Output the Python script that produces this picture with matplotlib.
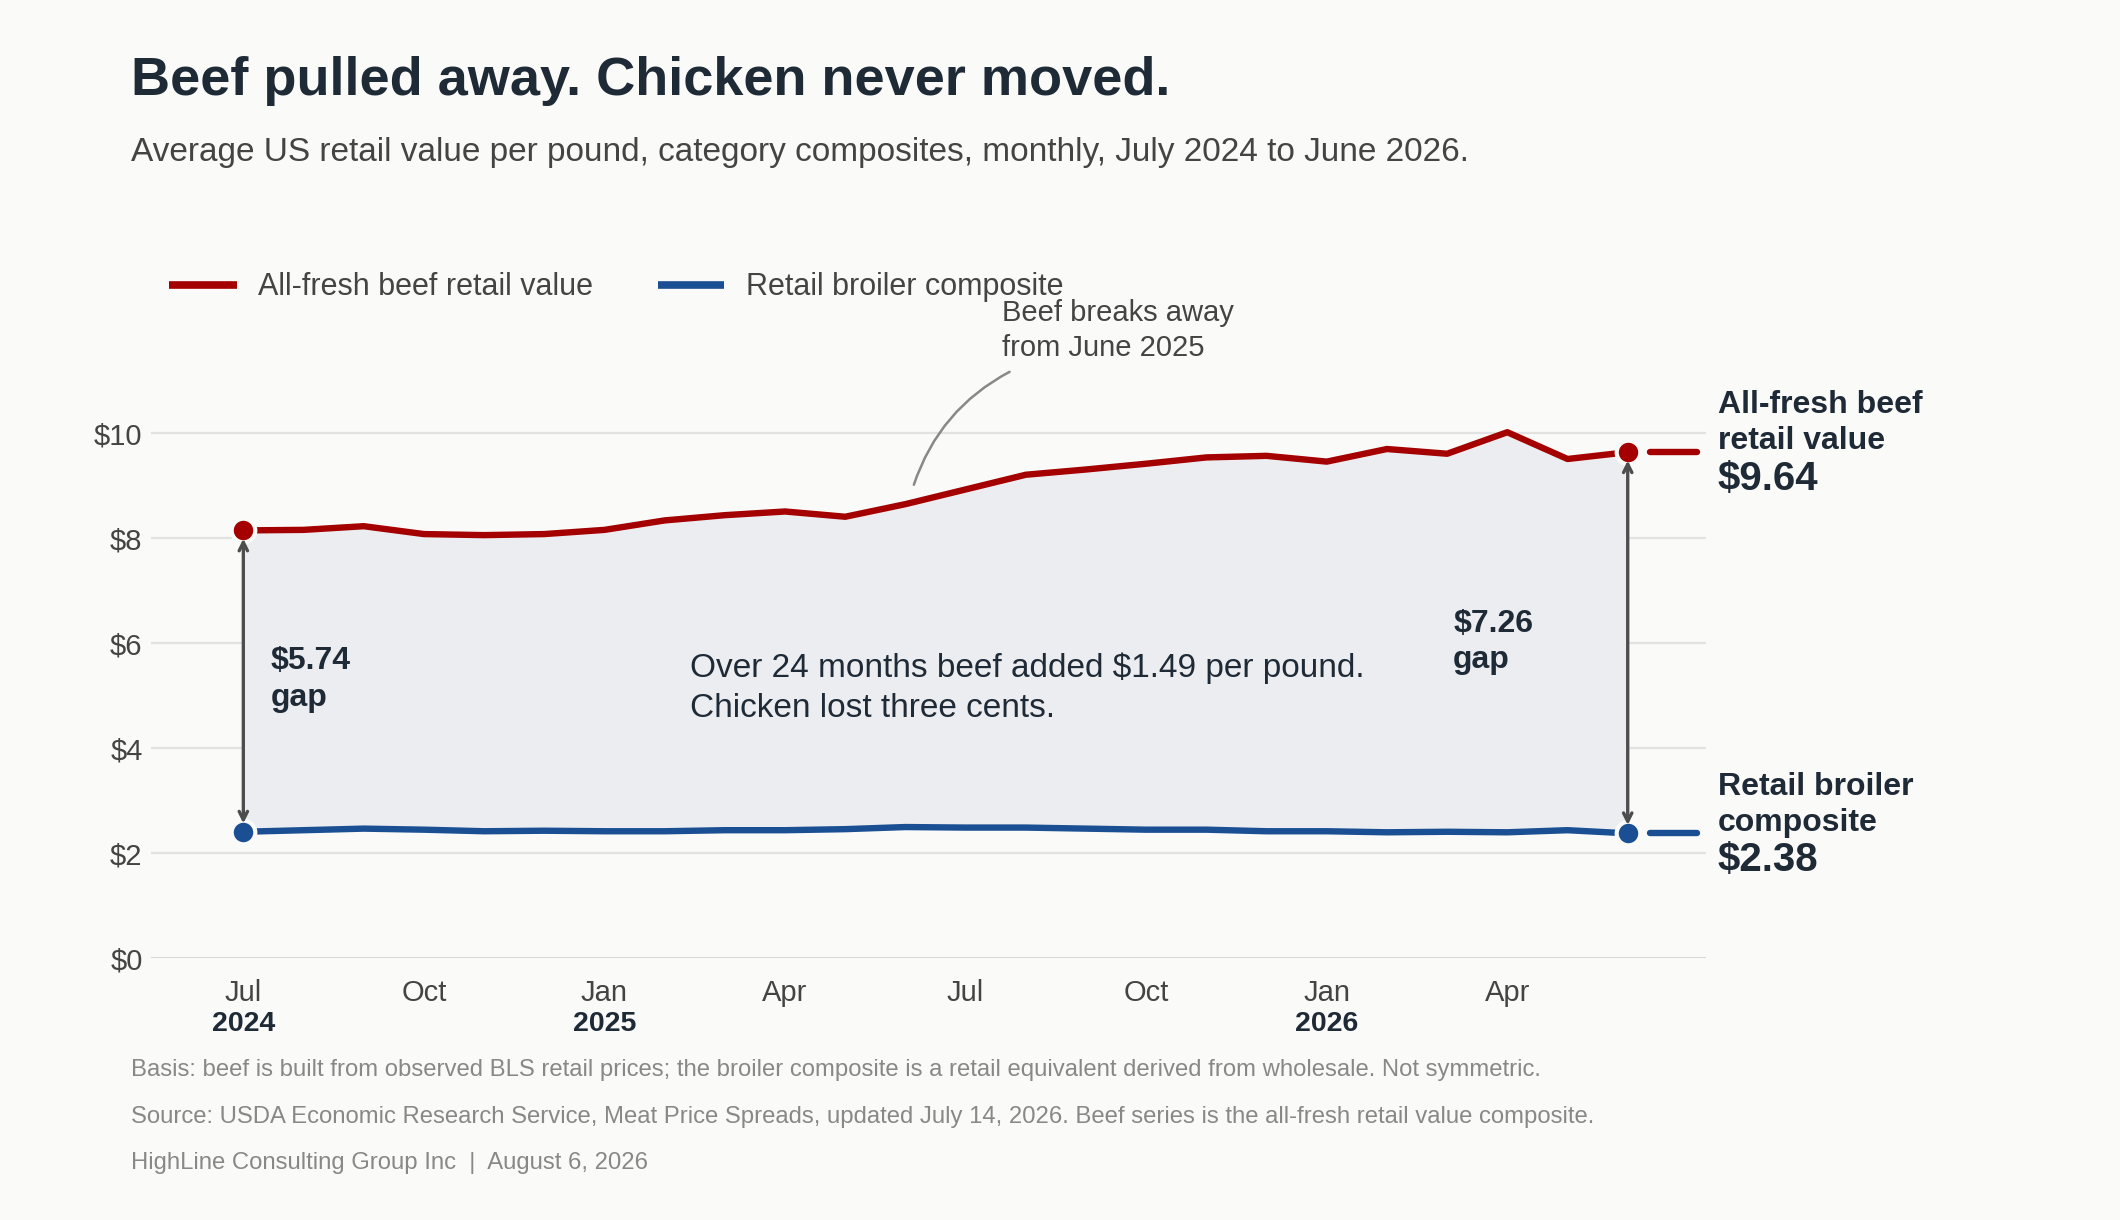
import numpy as np
import matplotlib.pyplot as plt

plt.rcParams['font.family'] = ['Liberation Sans', 'DejaVu Sans']

# monthly values, Jul 2024 .. Jun 2026
months = ['Jul', 'Aug', 'Sep', 'Oct', 'Nov', 'Dec', 'Jan', 'Feb', 'Mar', 'Apr', 'May', 'Jun',
          'Jul', 'Aug', 'Sep', 'Oct', 'Nov', 'Dec', 'Jan', 'Feb', 'Mar', 'Apr', 'May', 'Jun']
beef = [8.15, 8.16, 8.23, 8.08, 8.06, 8.08, 8.16, 8.34, 8.44, 8.51, 8.41, 8.65,
        8.93, 9.21, 9.31, 9.42, 9.54, 9.57, 9.46, 9.70, 9.61, 10.02, 9.51, 9.64]
broiler = [2.41, 2.44, 2.47, 2.45, 2.42, 2.43, 2.42, 2.42, 2.44, 2.44, 2.46, 2.50,
           2.49, 2.49, 2.47, 2.45, 2.45, 2.42, 2.42, 2.40, 2.41, 2.40, 2.44, 2.38]
tick_idx = [0, 3, 6, 9, 12, 15, 18, 21]
year_idx = {0: '2024', 6: '2025', 18: '2026'}
yticks = [0, 2, 4, 6, 8, 10]

RED = '#a50000'
BLUE = '#1a4f94'
DARK = '#1f2a37'
GREY = '#444444'
BG = '#fafaf8'

x = np.arange(len(beef))
beef = np.array(beef)
broiler = np.array(broiler)
n = len(beef)

fig = plt.figure(figsize=(21.2, 12.2), dpi=100, facecolor=BG)
ax = fig.add_axes([0.0712, 0.2145, 0.7335, 0.4734], facecolor=BG)
ax.set_xlim(-1.535, 24.3)
ax.set_ylim(0, 11)

for s in ax.spines.values():
    s.set_visible(False)
for v in yticks[1:]:
    ax.axhline(v, color='#e2e2e2', lw=1.6, zorder=0)
ax.axhline(0, color='#cccccc', lw=1.8, zorder=0)

ax.fill_between(x, broiler, beef, color='#ecedf0', lw=0, zorder=1)
ax.plot(x, beef, color=RED, lw=4.6, zorder=3)
ax.plot(x, broiler, color=BLUE, lw=4.6, zorder=3)

# short dashes past the last point
ax.plot([n - 1 + 0.37, n - 1 + 1.15], [beef[-1]] * 2, color=RED, lw=4.6, solid_capstyle='round', zorder=3)
ax.plot([n - 1 + 0.37, n - 1 + 1.15], [broiler[-1]] * 2, color=BLUE, lw=4.6, solid_capstyle='round', zorder=3)

for i in [0, n - 1]:
    ax.plot(i, beef[i], 'o', ms=17, color=RED, mec=BG, mew=3, zorder=5)
    ax.plot(i, broiler[i], 'o', ms=17, color=BLUE, mec=BG, mew=3, zorder=5)
    ax.annotate('', xy=(i, beef[i]), xytext=(i, broiler[i]),
                arrowprops=dict(arrowstyle='<->,head_length=0.6,head_width=0.3', color='#4d4d4d',
                                lw=2.4, shrinkA=6, shrinkB=6), zorder=6)

ax.set_yticks(yticks)
ax.set_yticklabels(['$%d' % v for v in yticks])
ax.set_xticks(tick_idx)
ax.set_xticklabels([months[i] for i in tick_idx])
ax.tick_params(length=0, labelsize=21, labelcolor=GREY)
ax.tick_params(axis='y', pad=6)
ax.tick_params(axis='x', pad=15)
for i, yr in year_idx.items():
    ax.text(i, -0.126, yr, transform=ax.get_xaxis_transform(), ha='center', va='baseline',
            fontsize=20.5, fontweight='bold', color=DARK)

# gap labels
gap0 = beef[0] - broiler[0]
gap1 = beef[-1] - broiler[-1]
ax.text(0.46, 4.8, '$%.2f\ngap' % gap0, fontsize=23, fontweight='bold', color=DARK,
        va='baseline', linespacing=1.3)
ax.text(20.1, 5.52, '$%.2f\ngap' % gap1, fontsize=23, fontweight='bold', color=DARK,
        va='baseline', linespacing=1.3)

ax.text(7.42, 4.6, 'Over 24 months beef added $%.2f per pound.\nChicken lost three cents.' % (beef[-1] - beef[0]),
        fontsize=24, color=DARK, va='baseline', linespacing=1.35)

# callout
ax.text(12.6, 11.47, 'Beef breaks away\nfrom June 2025', fontsize=21, color=GREY,
        va='baseline', linespacing=1.3, clip_on=False)
ax.annotate('', xy=(11.14, 9.02), xytext=(12.73, 11.17), annotation_clip=False,
            arrowprops=dict(arrowstyle='-', color='#888888', lw=1.8,
                            connectionstyle='arc3,rad=0.2', shrinkA=0, shrinkB=0))

# end labels
ax.text(24.5, 9.70, 'All-fresh beef\nretail value', fontsize=23, fontweight='bold', color=DARK,
        va='baseline', linespacing=1.25, clip_on=False)
ax.text(24.5, 8.92, '$%.2f' % beef[-1], fontsize=29, fontweight='bold', color=DARK,
        va='baseline', clip_on=False)
ax.text(24.5, 2.43, 'Retail broiler\ncomposite', fontsize=23, fontweight='bold', color=DARK,
        va='baseline', linespacing=1.25, clip_on=False)
ax.text(24.5, 1.67, '$%.2f' % broiler[-1], fontsize=29, fontweight='bold', color=DARK,
        va='baseline', clip_on=False)

# title block
fig.text(131 / 2120, 1 - 95 / 1220, 'Beef pulled away. Chicken never moved.', fontsize=39,
         fontweight='bold', color=DARK, va='baseline')
fig.text(131 / 2120, 1 - 161 / 1220,
         'Average US retail value per pound, category composites, monthly, July 2024 to June 2026.',
         fontsize=24, color=GREY, va='baseline')

# legend
for x0, x1, tx, col, lab in [(169, 237, 258, RED, 'All-fresh beef retail value'),
                             (658, 724, 746, BLUE, 'Retail broiler composite')]:
    fig.add_artist(plt.Line2D([x0 / 2120, x1 / 2120], [1 - 285 / 1220] * 2, color=col, lw=5.5,
                              solid_capstyle='butt'))
    fig.text(tx / 2120, 1 - 287 / 1220, lab, fontsize=22, color=GREY, va='center')

# footer
foot = ['Basis: beef is built from observed BLS retail prices; the broiler composite is a retail equivalent derived from wholesale. Not symmetric.',
        'Source: USDA Economic Research Service, Meat Price Spreads, updated July 14, 2026. Beef series is the all-fresh retail value composite.',
        'HighLine Consulting Group Inc  |  August 6, 2026']
for k, line in enumerate(foot):
    fig.text(131 / 2120, 1 - (1076 + 46.5 * k) / 1220, line, fontsize=17.2, color='#888888', va='baseline')

fig.savefig('out.png', dpi=100, facecolor=BG)
